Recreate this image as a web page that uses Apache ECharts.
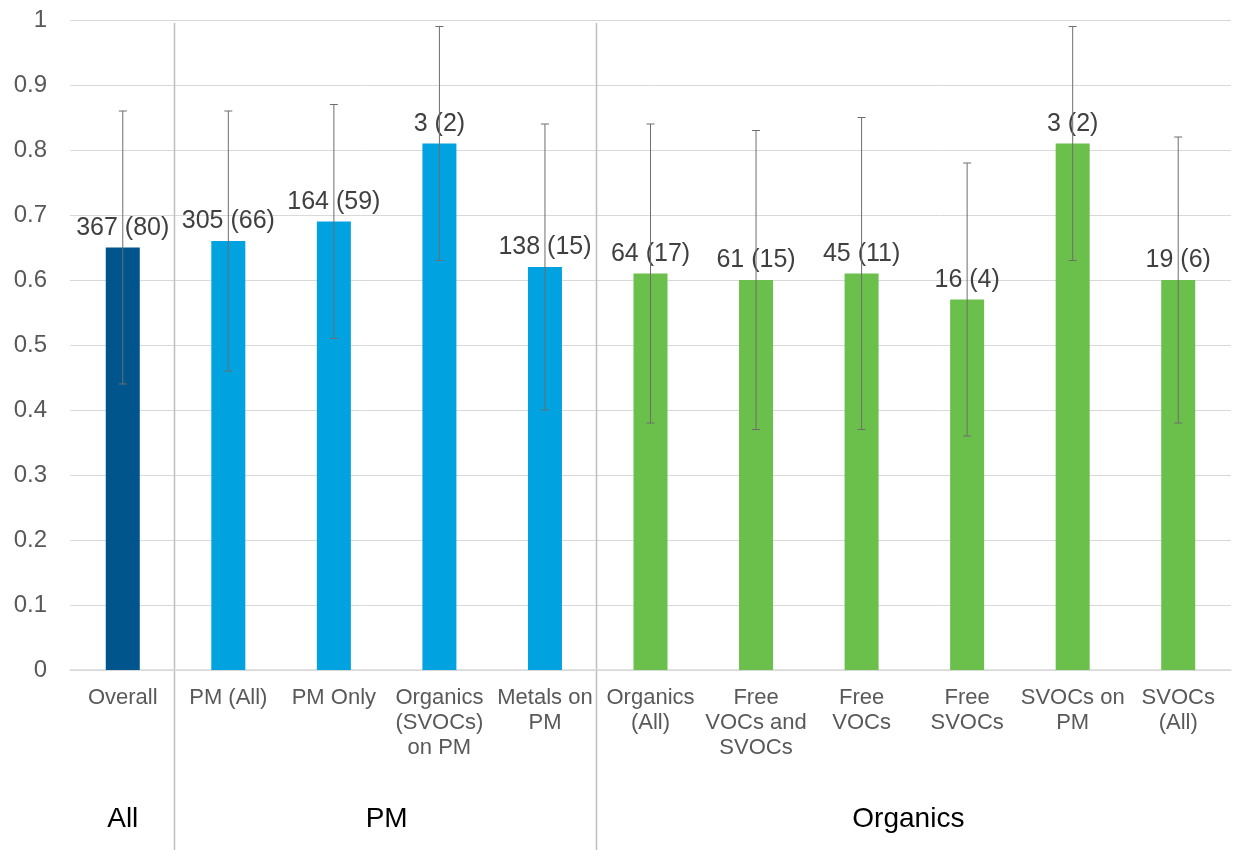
<!DOCTYPE html>
<html>
<head>
<meta charset="utf-8">
<script src="https://cdn.jsdelivr.net/npm/echarts@6/dist/echarts.min.js"></script>
<style>
  html, body { margin: 0; padding: 0; background: #fff; }
  #chart { width: 1238px; height: 850px; }
</style>
</head>
<body>
<div id="chart"></div>
<script>
// Category names (line breaks as displayed under the axis)
const categories = [
  'Overall', 'PM (All)', 'PM Only', 'Organics\n(SVOCs)\non PM', 'Metals on\nPM',
  'Organics\n(All)', 'Free\nVOCs and\nSVOCs', 'Free\nVOCs', 'Free\nSVOCs', 'SVOCs on\nPM', 'SVOCs\n(All)'
];
// Bar heights (mean values)
const means = [0.65, 0.66, 0.69, 0.81, 0.62, 0.61, 0.60, 0.61, 0.57, 0.81, 0.60];
// Error bar lower / upper bounds
const lower = [0.44, 0.46, 0.51, 0.63, 0.40, 0.38, 0.37, 0.37, 0.36, 0.63, 0.38];
const upper = [0.86, 0.86, 0.87, 0.99, 0.84, 0.84, 0.83, 0.85, 0.78, 0.99, 0.82];
// Count labels shown above each bar
const counts = ['367 (80)', '305 (66)', '164 (59)', '3 (2)', '138 (15)', '64 (17)', '61 (15)', '45 (11)', '16 (4)', '3 (2)', '19 (6)'];
// Group of each category
const groupOf = ['All', 'PM', 'PM', 'PM', 'PM', 'Organics', 'Organics', 'Organics', 'Organics', 'Organics', 'Organics'];
const groupColors = { 'All': '#00558C', 'PM': '#00A2DF', 'Organics': '#6BC04B' };
// Y-axis range and step
const yMin = 0, yMax = 1, yStep = 0.1;

const FONT = '"Liberation Sans", Arial, sans-serif';
const chart = echarts.init(document.getElementById('chart'));

const option = {
  animation: false,
  backgroundColor: '#fff',
  grid: { left: 70, right: 7, top: 20, bottom: 180, containLabel: false },
  xAxis: {
    type: 'category',
    data: categories,
    axisLine: { show: true, lineStyle: { color: '#d9d9d9', width: 1.5 } },
    axisTick: { show: false },
    axisLabel: {
      interval: 0, fontFamily: FONT, fontSize: 22, color: '#595959',
      lineHeight: 25, margin: 15, align: 'center'
    }
  },
  yAxis: {
    type: 'value', min: yMin, max: yMax, interval: yStep,
    axisLine: { show: false }, axisTick: { show: false },
    splitLine: { lineStyle: { color: '#d9d9d9', width: 1 } },
    axisLabel: {
      fontFamily: FONT, fontSize: 24, color: '#595959', margin: 23,
      formatter: v => String(Math.round(v * 10) / 10)
    }
  },
  series: [
    {
      type: 'bar',
      barWidth: 34,
      data: means.map((v, i) => ({ value: v, itemStyle: { color: groupColors[groupOf[i]] } })),
      label: {
        show: true, position: 'top', distance: 7,
        fontFamily: FONT, fontSize: 25, color: '#404040',
        formatter: p => counts[p.dataIndex]
      },
      z: 2
    },
    {
      type: 'custom',
      data: lower.map((lo, i) => [i, lo, upper[i]]),
      encode: { x: 0, y: [1, 2] },
      z: 10,
      renderItem: (params, api) => {
        const lo = api.coord([api.value(0), api.value(1)]);
        const hi = api.coord([api.value(0), api.value(2)]);
        const cap = 4;
        const style = { stroke: '#6e6e6e', lineWidth: 1 };
        return {
          type: 'group',
          children: [
            { type: 'line', shape: { x1: lo[0], y1: lo[1], x2: hi[0], y2: hi[1] }, style },
            { type: 'line', shape: { x1: hi[0] - cap, y1: hi[1], x2: hi[0] + cap, y2: hi[1] }, style },
            { type: 'line', shape: { x1: lo[0] - cap, y1: lo[1], x2: lo[0] + cap, y2: lo[1] }, style }
          ]
        };
      }
    }
  ]
};
chart.setOption(option);

// Group separators and group titles, placed from the category axis scale
function drawGroups() {
  const xs = categories.map((_, i) => chart.convertToPixel({ xAxisIndex: 0 }, i));
  const band = xs.length > 1 ? xs[1] - xs[0] : 100;
  const groups = [];
  groupOf.forEach((g, i) => {
    const last = groups[groups.length - 1];
    if (last && last.name === g) last.end = i; else groups.push({ name: g, start: i, end: i });
  });
  const elements = [];
  groups.forEach((g, k) => {
    const x0 = xs[g.start] - band / 2;
    const x1 = xs[g.end] + band / 2;
    if (k > 0) {
      const sx = Math.round(x0 - 2) + 0.5;
      elements.push({
        type: 'line', silent: true,
        shape: { x1: sx, y1: 23, x2: sx, y2: 850 },
        style: { stroke: '#bfbfbf', lineWidth: 1.5 }
      });
    }
    elements.push({
      type: 'text', silent: true,
      x: (x0 + x1) / 2 - (k === groups.length - 1 ? 6 : 0), y: 819,
      style: { text: g.name, font: '28px ' + FONT, fill: '#000', align: 'center', verticalAlign: 'middle' }
    });
  });
  chart.setOption({ graphic: elements });
}
drawGroups();
</script>
</body>
</html>
